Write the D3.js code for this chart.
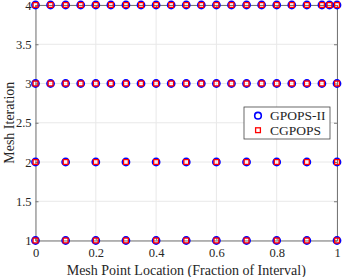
<!DOCTYPE html>
<html>
<head>
<meta charset="utf-8">
<script src="https://cdn.jsdelivr.net/npm/d3@7"></script>
<style>
  body { margin: 0; background: #fff; }
  svg text { font-family: "Liberation Serif", "DejaVu Serif", serif; fill: #262626; }
</style>
</head>
<body>
<div class="canvas"></div>
<script>
// mesh point locations for each mesh iteration
const mesh1 = [0, 0.1, 0.2, 0.3, 0.4, 0.5, 0.6, 0.7, 0.8, 0.9, 1];
const mesh2 = [0, 0.1, 0.2, 0.3, 0.4, 0.5, 0.6, 0.7, 0.8, 0.9, 1];
const mesh3 = [0, 0.05, 0.1, 0.15, 0.2, 0.25, 0.3, 0.35, 0.4, 0.45, 0.5,
  0.55, 0.6, 0.65, 0.7, 0.75, 0.8, 0.85, 0.9, 0.95, 1];
const mesh4 = [0, 0.05, 0.1, 0.15, 0.2, 0.25, 0.3, 0.35, 0.4, 0.45, 0.5,
  0.55, 0.6, 0.65, 0.7, 0.75, 0.8, 0.85, 0.9, 0.95, 0.975, 1];
const meshes = [mesh1, mesh2, mesh3, mesh4];

const xTicks = [0, 0.2, 0.4, 0.6, 0.8, 1];
const yTicks = [1, 1.5, 2, 2.5, 3, 3.5, 4];
const seriesNames = ["GPOPS-II", "CGPOPS"];

const margin = { top: 5, right: 6, bottom: 36.5, left: 35.5 };
const width = 343, height = 277;
const graphWidth = width - margin.left - margin.right;
const graphHeight = height - margin.top - margin.bottom;

const svg = d3.select(".canvas")
  .append("svg")
  .attr("width", width)
  .attr("height", height);

const graph = svg.append("g")
  .attr("transform", `translate(${margin.left},${margin.top})`);

//scales
const x = d3.scaleLinear().domain([0, 1]).range([0, graphWidth]);
const y = d3.scaleLinear().domain([1, 4]).range([graphHeight, 0]);

//grid
graph.append("g").selectAll("line").data(xTicks).join("line")
  .attr("x1", d => x(d)).attr("x2", d => x(d))
  .attr("y1", 0).attr("y2", graphHeight)
  .attr("stroke", "#e8e8e8").attr("stroke-width", 1);
graph.append("g").selectAll("line").data(yTicks).join("line")
  .attr("x1", 0).attr("x2", graphWidth)
  .attr("y1", d => y(d)).attr("y2", d => y(d))
  .attr("stroke", "#e8e8e8").attr("stroke-width", 1);

//axes
const xAxis = d3.axisBottom(x).tickValues(xTicks).tickSize(-3).tickPadding(8)
  .tickFormat(d => d);
const yAxis = d3.axisLeft(y).tickValues(yTicks).tickSize(-3).tickPadding(4)
  .tickFormat(d => d);

const xAxisGroup = graph.append("g")
  .attr("transform", `translate(0,${graphHeight})`).call(xAxis);
const yAxisGroup = graph.append("g").call(yAxis);
const xTopGroup = graph.append("g")
  .call(d3.axisTop(x).tickValues(xTicks).tickSize(-3).tickFormat(""));
const yRightGroup = graph.append("g")
  .attr("transform", `translate(${graphWidth},0)`)
  .call(d3.axisRight(y).tickValues(yTicks).tickSize(-3).tickFormat(""));

[xAxisGroup, yAxisGroup, xTopGroup, yRightGroup].forEach(g => {
  g.selectAll("path, line").attr("stroke", "#777").attr("stroke-width", 1);
  g.selectAll("text").attr("font-size", 12.5).attr("fill", "#262626");
});

//markers
meshes.forEach((pts, i) => {
  const level = i + 1;
  const pts2 = pts.map(p => ({ loc: p, level }));
  graph.append("g").selectAll("circle").data(pts2).join("circle")
    .attr("cx", d => x(d.loc)).attr("cy", d => y(d.level))
    .attr("r", 3.6)
    .attr("fill", "none").attr("stroke", "#0000ff").attr("stroke-width", 1.6);
  graph.append("g").selectAll("rect").data(pts2).join("rect")
    .attr("x", d => x(d.loc) - 2.4).attr("y", d => y(d.level) - 2.4)
    .attr("width", 4.8).attr("height", 4.8)
    .attr("fill", "none").attr("stroke", "#ff0000").attr("stroke-width", 1.3);
});

//axis labels
svg.append("text")
  .attr("x", margin.left + graphWidth / 2).attr("y", 275)
  .attr("text-anchor", "middle").attr("font-size", 14)
  .text("Mesh Point Location (Fraction of Interval)");
svg.append("text")
  .attr("transform", `translate(14,${margin.top + graphHeight / 2}) rotate(-90)`)
  .attr("text-anchor", "middle").attr("font-size", 14)
  .text("Mesh Iteration");

//legend
const legend = svg.append("g").attr("transform", "translate(244,107)");
legend.append("rect")
  .attr("width", 86).attr("height", 32)
  .attr("fill", "#fff").attr("stroke", "#444").attr("stroke-width", 0.8);
const items = legend.selectAll("g.item").data(seriesNames).join("g")
  .attr("class", "item")
  .attr("transform", (d, i) => `translate(0,${8.7 + i * 14.5})`);
items.filter((d, i) => i === 0).append("circle")
  .attr("cx", 14).attr("cy", 0).attr("r", 3.3)
  .attr("fill", "none").attr("stroke", "#0000ff").attr("stroke-width", 1.6);
items.filter((d, i) => i === 1).append("rect")
  .attr("x", 11.6).attr("y", -2.4).attr("width", 4.8).attr("height", 4.8)
  .attr("fill", "none").attr("stroke", "#ff0000").attr("stroke-width", 1.3);
items.append("text")
  .attr("x", 26).attr("y", 4.5).attr("font-size", 13.5)
  .text(d => d);
</script>
</body>
</html>
